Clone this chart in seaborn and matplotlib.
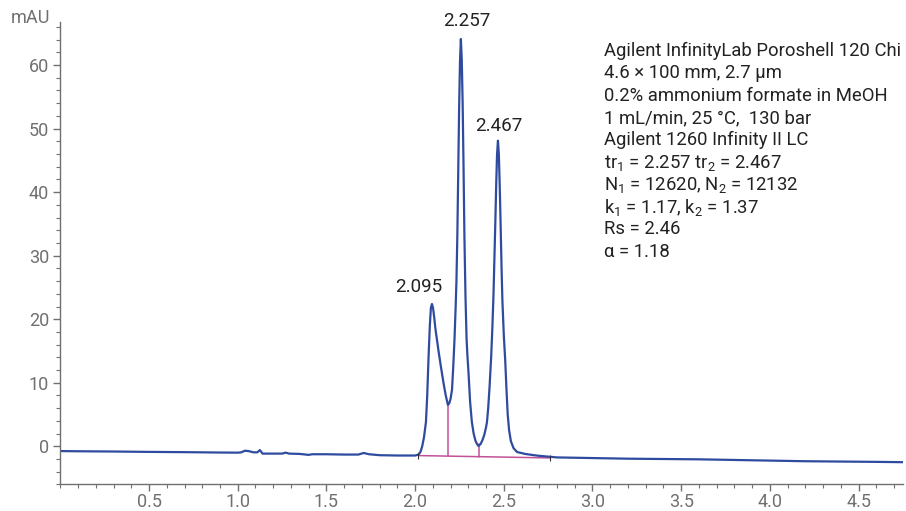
import numpy as np
import pandas as pd
import matplotlib
matplotlib.use("Agg")
import matplotlib.pyplot as plt
from matplotlib.ticker import MultipleLocator
import seaborn as sns

# chromatogram trace (time in min, absorbance in mAU)
time_min = [
    0.00, 0.10, 0.20, 0.30, 0.40, 0.50, 0.60, 0.70, 0.80, 0.90,
    1.00, 1.02, 1.04, 1.06, 1.09, 1.11, 1.125, 1.14, 1.20, 1.25,
    1.27, 1.29, 1.35, 1.40, 1.42, 1.50, 1.60, 1.68, 1.71, 1.74,
    1.80, 1.90, 1.95, 2.000, 2.019, 2.030, 2.040, 2.050, 2.061, 2.068,
    2.076, 2.083, 2.089, 2.095, 2.101, 2.108, 2.115, 2.124, 2.132, 2.145,
    2.160, 2.172, 2.185, 2.193, 2.200, 2.208, 2.215, 2.222, 2.228, 2.233,
    2.238, 2.243, 2.248, 2.253, 2.258, 2.263, 2.268, 2.273, 2.278, 2.284,
    2.290, 2.295, 2.301, 2.310, 2.320, 2.330, 2.340, 2.350, 2.358, 2.370,
    2.380, 2.390, 2.400, 2.405, 2.412, 2.420, 2.429, 2.436, 2.442, 2.447,
    2.452, 2.457, 2.462, 2.467, 2.472, 2.477, 2.482, 2.487, 2.492, 2.500,
    2.508, 2.515, 2.522, 2.530, 2.540, 2.555, 2.575, 2.620, 2.670, 2.700,
    2.800, 3.000, 3.200, 3.400, 3.600, 3.800, 4.000, 4.200, 4.400, 4.600,
    4.750,
]
absorbance_mau = [
    -0.75, -0.78, -0.80, -0.82, -0.85, -0.88, -0.90, -0.92, -0.95, -0.98,
    -1.00, -0.95, -0.70, -0.75, -0.95, -0.95, -0.60, -1.15, -1.15, -1.15,
    -1.00, -1.15, -1.20, -1.35, -1.25, -1.25, -1.30, -1.30, -1.05, -1.25,
    -1.40, -1.45, -1.45, -1.45, -1.30, -0.90, 0.00, 1.40, 3.80, 7.80,
    14.2, 19.0, 21.8, 22.4, 21.8, 20.2, 18.4, 16.6, 15.0, 12.6,
    10.0, 8.1, 6.5, 6.8, 7.5, 8.9, 12.5, 16.8, 21.5, 26.0,
    33.0, 43.0, 53.0, 60.5, 64.1, 60.8, 54.0, 44.0, 33.0, 23.6,
    17.0, 14.2, 11.6, 7.0, 3.8, 2.0, 0.9, 0.3, 0.05, 0.4,
    1.0, 1.8, 3.0, 3.8, 6.0, 9.5, 14.2, 19.0, 24.0, 29.5,
    35.0, 41.0, 46.0, 48.1, 46.0, 41.0, 35.0, 28.5, 23.0, 17.5,
    13.5, 9.0, 5.0, 2.5, 0.8, -0.3, -0.9, -1.2, -1.4, -1.5,
    -1.75, -1.85, -1.95, -2.00, -2.05, -2.15, -2.25, -2.35, -2.40, -2.45,
    -2.50,
]

# integration baseline and valley drop lines
baseline_t = [2.019, 2.762]
baseline_mau = [-1.46, -1.83]
drop_t = [2.188, 2.362]
drop_bottom = [-1.58, -1.70]
drop_top = [6.4, 0.3]

# retention time labels
peak_labels = ["2.095", "2.257", "2.467"]
peak_label_t = [2.019, 2.289, 2.474]
peak_label_mau = [25.0, 66.9, 50.4]

method_lines = [
    "Agilent InfinityLab Poroshell 120 Chi",
    "4.6 \u00d7 100 mm, 2.7 \u00b5m",
    "0.2% ammonium formate in MeOH",
    "1 mL/min, 25 \u00b0C,  130 bar",
    "Agilent 1260 Infinity II LC",
    "tr$_1$ = 2.257 tr$_2$ = 2.467",
    "N$_1$ = 12620, N$_2$ = 12132",
    "k$_1$ = 1.17, k$_2$ = 1.37",
    "Rs = 2.46",
    "\u03b1 = 1.18",
]

sns.set_style("ticks")
plt.rcParams['font.family'] = ['Roboto', 'DejaVu Sans']
plt.rcParams['mathtext.fontset'] = 'custom'
plt.rcParams['mathtext.rm'] = 'Roboto'
plt.rcParams['mathtext.it'] = 'Roboto'

grey = '#707070'
trace_color = '#2e4b9f'
base_color = '#c2509a'

fig = plt.figure(figsize=(9.06, 5.11), dpi=100)
ax = fig.add_axes([0.0666, 0.052, 0.930, 0.904])

trace = pd.DataFrame({'time': time_min, 'mAU': absorbance_mau})
sns.lineplot(data=trace, x='time', y='mAU', sort=False, color=trace_color,
             linewidth=1.6, ax=ax)

ax.plot(baseline_t, baseline_mau, color=base_color, linewidth=1.1, zorder=1)
for t, lo, hi in zip(drop_t, drop_bottom, drop_top):
    ax.plot([t, t], [lo, hi], color=base_color, linewidth=1.1, zorder=1)
ax.plot(baseline_t, baseline_mau, linestyle='none', marker='|', markersize=5,
        color='#333333', markeredgewidth=0.8)

for lab, t, y in zip(peak_labels, peak_label_t, peak_label_mau):
    ax.text(t, y, lab, ha='center', va='center', fontsize=13.5, color='#222222',
            clip_on=False)

for i, line in enumerate(method_lines):
    fig.text(604 / 906, 1 - (51 + i * 22.3) / 511, line, ha='left', va='center',
             fontsize=13.3, color='#222222')

ax.set_xlim(0, 4.75)
ax.set_ylim(-6, 66.7)
ax.set_xticks([0.5, 1.0, 1.5, 2.0, 2.5, 3.0, 3.5, 4.0, 4.5])
ax.xaxis.set_minor_locator(MultipleLocator(0.1))
ax.set_yticks([0, 10, 20, 30, 40, 50, 60])
ax.yaxis.set_minor_locator(MultipleLocator(2))

ax.tick_params(which='major', length=5, width=1, color=grey, labelcolor=grey,
               labelsize=13, direction='out')
ax.tick_params(axis='x', which='major', pad=1.5)
ax.tick_params(axis='y', which='major', pad=3)
ax.tick_params(which='minor', length=3, width=0.8, color=grey, direction='out')
for side in ['top', 'right']:
    ax.spines[side].set_visible(False)
for side in ['left', 'bottom']:
    ax.spines[side].set_color(grey)
    ax.spines[side].set_linewidth(1)

ax.set_xlabel('')
ax.set_ylabel('')
ax.text(-0.012, 67.4, 'mAU', transform=ax.get_yaxis_transform(), ha='right',
        va='center', fontsize=13, color=grey)

fig.savefig('out.png', dpi=100)
